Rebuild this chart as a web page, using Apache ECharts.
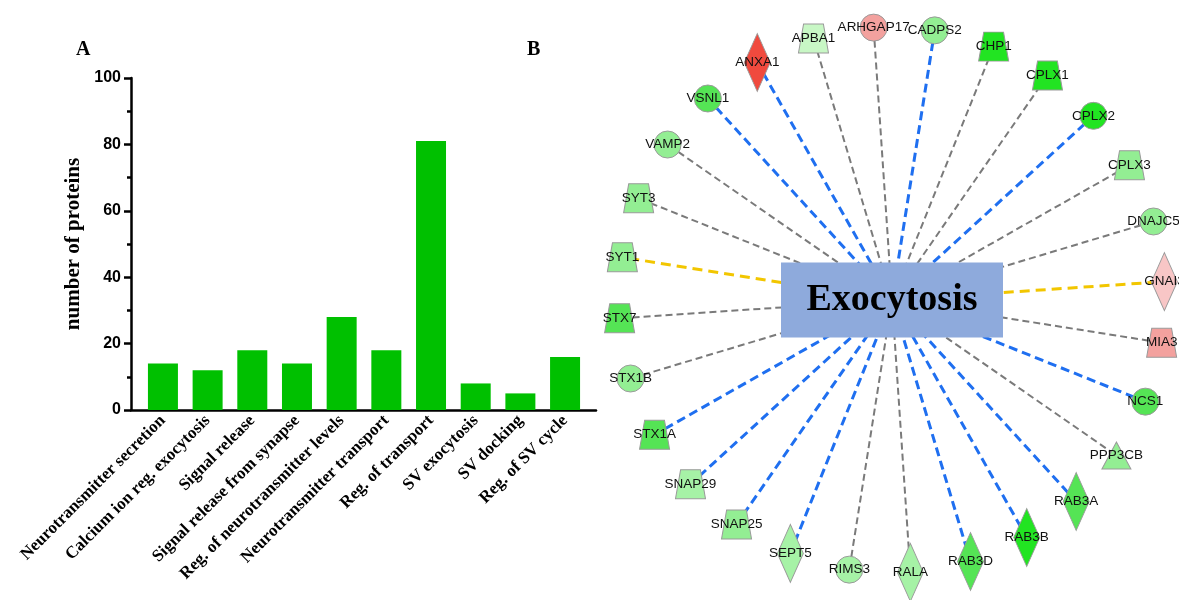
<!DOCTYPE html>
<html><head><meta charset="utf-8">
<script src="https://cdn.jsdelivr.net/npm/echarts@6/dist/echarts.min.js"></script>
<style>html,body{margin:0;padding:0;background:#fff}#c{width:1179px;height:600px}</style>
</head><body><div id="c"></div>
<script>
// ---- Panel A data ----
const categories = ['Neurotransmitter secretion','Calcium ion reg. exocytosis','Signal release','Signal release from synapse','Reg. of neurotransmitter levels','Neurotransmitter transport','Reg. of transport','SV exocytosis','SV docking','Reg. of SV cycle'];
const proteinCounts = [14, 12, 18, 14, 28, 18, 81, 8, 5, 16];
const yAxisRange = [0, 100];
const yTickStep = 20;

// ---- Panel B data ----
const hubName = 'Exocytosis';
const geneNames = ['ANXA1','APBA1','ARHGAP17','CADPS2','CHP1','CPLX1','CPLX2','CPLX3','DNAJC5','GNAI3','MIA3','NCS1','PPP3CB','RAB3A','RAB3B','RAB3D','RALA','RIMS3','SEPT5','SNAP25','SNAP29','STX1A','STX1B','STX7','SYT1','SYT3','VAMP2','VSNL1'];
const moleculeTypes = ['enzyme','transporter','other','other','transporter','transporter','other','transporter','other','enzyme','transporter','other','phosphatase','enzyme','enzyme','enzyme','enzyme','other','enzyme','transporter','transporter','transporter','other','transporter','transporter','transporter','other','other'];
const expressionLevels = [3,-1,2,-2,-4,-4,-4,-2,-2,1,2,-3,-2,-3,-4,-3,-1.5,-1.5,-1.5,-2,-1.5,-3,-2,-3,-2,-2,-2,-3];
const edgeRelations = ['inhibition','notPredicted','notPredicted','inhibition','notPredicted','notPredicted','inhibition','notPredicted','notPredicted','inconsistent','notPredicted','inhibition','notPredicted','inhibition','inhibition','inhibition','notPredicted','notPredicted','inhibition','inhibition','inhibition','inhibition','notPredicted','notPredicted','inconsistent','notPredicted','notPredicted','inhibition'];
const ringLevels = ['hub','ring'];

// ---- styles ----
const typeSymbol = { transporter: 'path://M1.7,0L8.3,0L10,10L0,10Z', enzyme: 'diamond', other: 'circle', phosphatase: 'triangle' };
const typeSize = { transporter: [30, 29], enzyme: [26, 58], other: [27, 27], phosphatase: [29, 27] };
const levelColor = { '3': '#f04a3e', '2': '#f3a19e', '1': '#f8c6c6', '-1': '#c8f7c5', '-1.5': '#a6f2a6', '-2': '#93ee93', '-3': '#55e455', '-4': '#22e422' };
const edgeStyle = {
  inhibition: { color: '#1f6ff0', width: 3, type: [9, 5], opacity: 1 },
  notPredicted: { color: '#7a7a7a', width: 2, type: [7, 4], opacity: 1 },
  inconsistent: { color: '#f2c600', width: 3, type: [10, 6], opacity: 1 }
};

const nodes = [{
  name: hubName, value: [ringLevels[0], geneNames[0]], symbol: 'rect', symbolSize: [222, 75],
  itemStyle: { color: '#8eaadc', borderWidth: 0 },
  label: { fontFamily: 'Liberation Serif', fontWeight: 'bold', fontSize: 38, color: '#000' }
}].concat(geneNames.map((g, i) => ({
  name: g, value: [ringLevels[1], g],
  symbol: typeSymbol[moleculeTypes[i]], symbolSize: typeSize[moleculeTypes[i]],
  itemStyle: { color: levelColor[String(expressionLevels[i])] }
})));
const links = geneNames.map((g, i) => ({ source: hubName, target: g, lineStyle: edgeStyle[edgeRelations[i]] }));

const chart = echarts.init(document.getElementById('c'));
chart.setOption({
  animation: false,
  title: [
    { text: 'A', left: 71, top: 35, textStyle: { fontFamily: 'Liberation Serif', fontWeight: 'bold', fontSize: 20, color: '#000' } },
    { text: 'B', left: 522, top: 35, textStyle: { fontFamily: 'Liberation Serif', fontWeight: 'bold', fontSize: 20, color: '#000' } }
  ],
  grid: [
    { left: 131, right: 583, top: 78, bottom: 190 },
    { left: 140.6, width: 446.8, top: 78, bottom: 190 }
  ],
  xAxis: [
    { gridIndex: 0, type: 'value', min: 0, max: 1, axisLine: { show: true, lineStyle: { color: '#000', width: 2.5 } }, axisTick: { show: false }, axisLabel: { show: false }, splitLine: { show: false } },
    { gridIndex: 1, type: 'category', data: categories, axisLine: { show: false }, axisTick: { show: false },
      axisLabel: { rotate: 45, interval: 0, margin: 8, fontFamily: 'Liberation Serif', fontWeight: 'bold', fontSize: 17, color: '#000' } }
  ],
  yAxis: [
    { gridIndex: 0, type: 'value', min: yAxisRange[0], max: yAxisRange[1], interval: yTickStep,
      axisLine: { show: true, lineStyle: { color: '#000', width: 2.5 } },
      axisTick: { show: true, length: 7, lineStyle: { color: '#000', width: 2.5 } },
      minorTick: { show: true, splitNumber: 2, length: 4, lineStyle: { color: '#000', width: 2.5 } },
      splitLine: { show: false },
      axisLabel: { margin: 10, fontFamily: 'Liberation Sans', fontWeight: 'bold', fontSize: 16, color: '#000' },
      name: 'number of proteins', nameLocation: 'middle', nameGap: 47,
      nameTextStyle: { fontFamily: 'Liberation Serif', fontWeight: 'bold', fontSize: 21, color: '#000' } },
    { gridIndex: 1, type: 'value', min: yAxisRange[0], max: yAxisRange[1], show: false }
  ],
  polar: { center: [892, 300], radius: 273 },
  angleAxis: { type: 'category', data: geneNames, startAngle: 126, clockwise: true, boundaryGap: true, show: false },
  radiusAxis: { type: 'category', data: ringLevels, boundaryGap: false, show: false },
  series: [
    { type: 'bar', xAxisIndex: 1, yAxisIndex: 1, data: proteinCounts, barWidth: 30, itemStyle: { color: '#00c000' }, silent: true },
    { type: 'graph', coordinateSystem: 'polar', polarIndex: 0, data: nodes, links: links, z: 3,
      label: { show: true, position: 'inside', fontFamily: 'Liberation Sans', fontSize: 13.5, color: '#111' },
      itemStyle: { borderColor: '#9a9a9a', borderWidth: 1 },
      edgeSymbol: ['none', 'none'] }
  ]
});
</script></body></html>
